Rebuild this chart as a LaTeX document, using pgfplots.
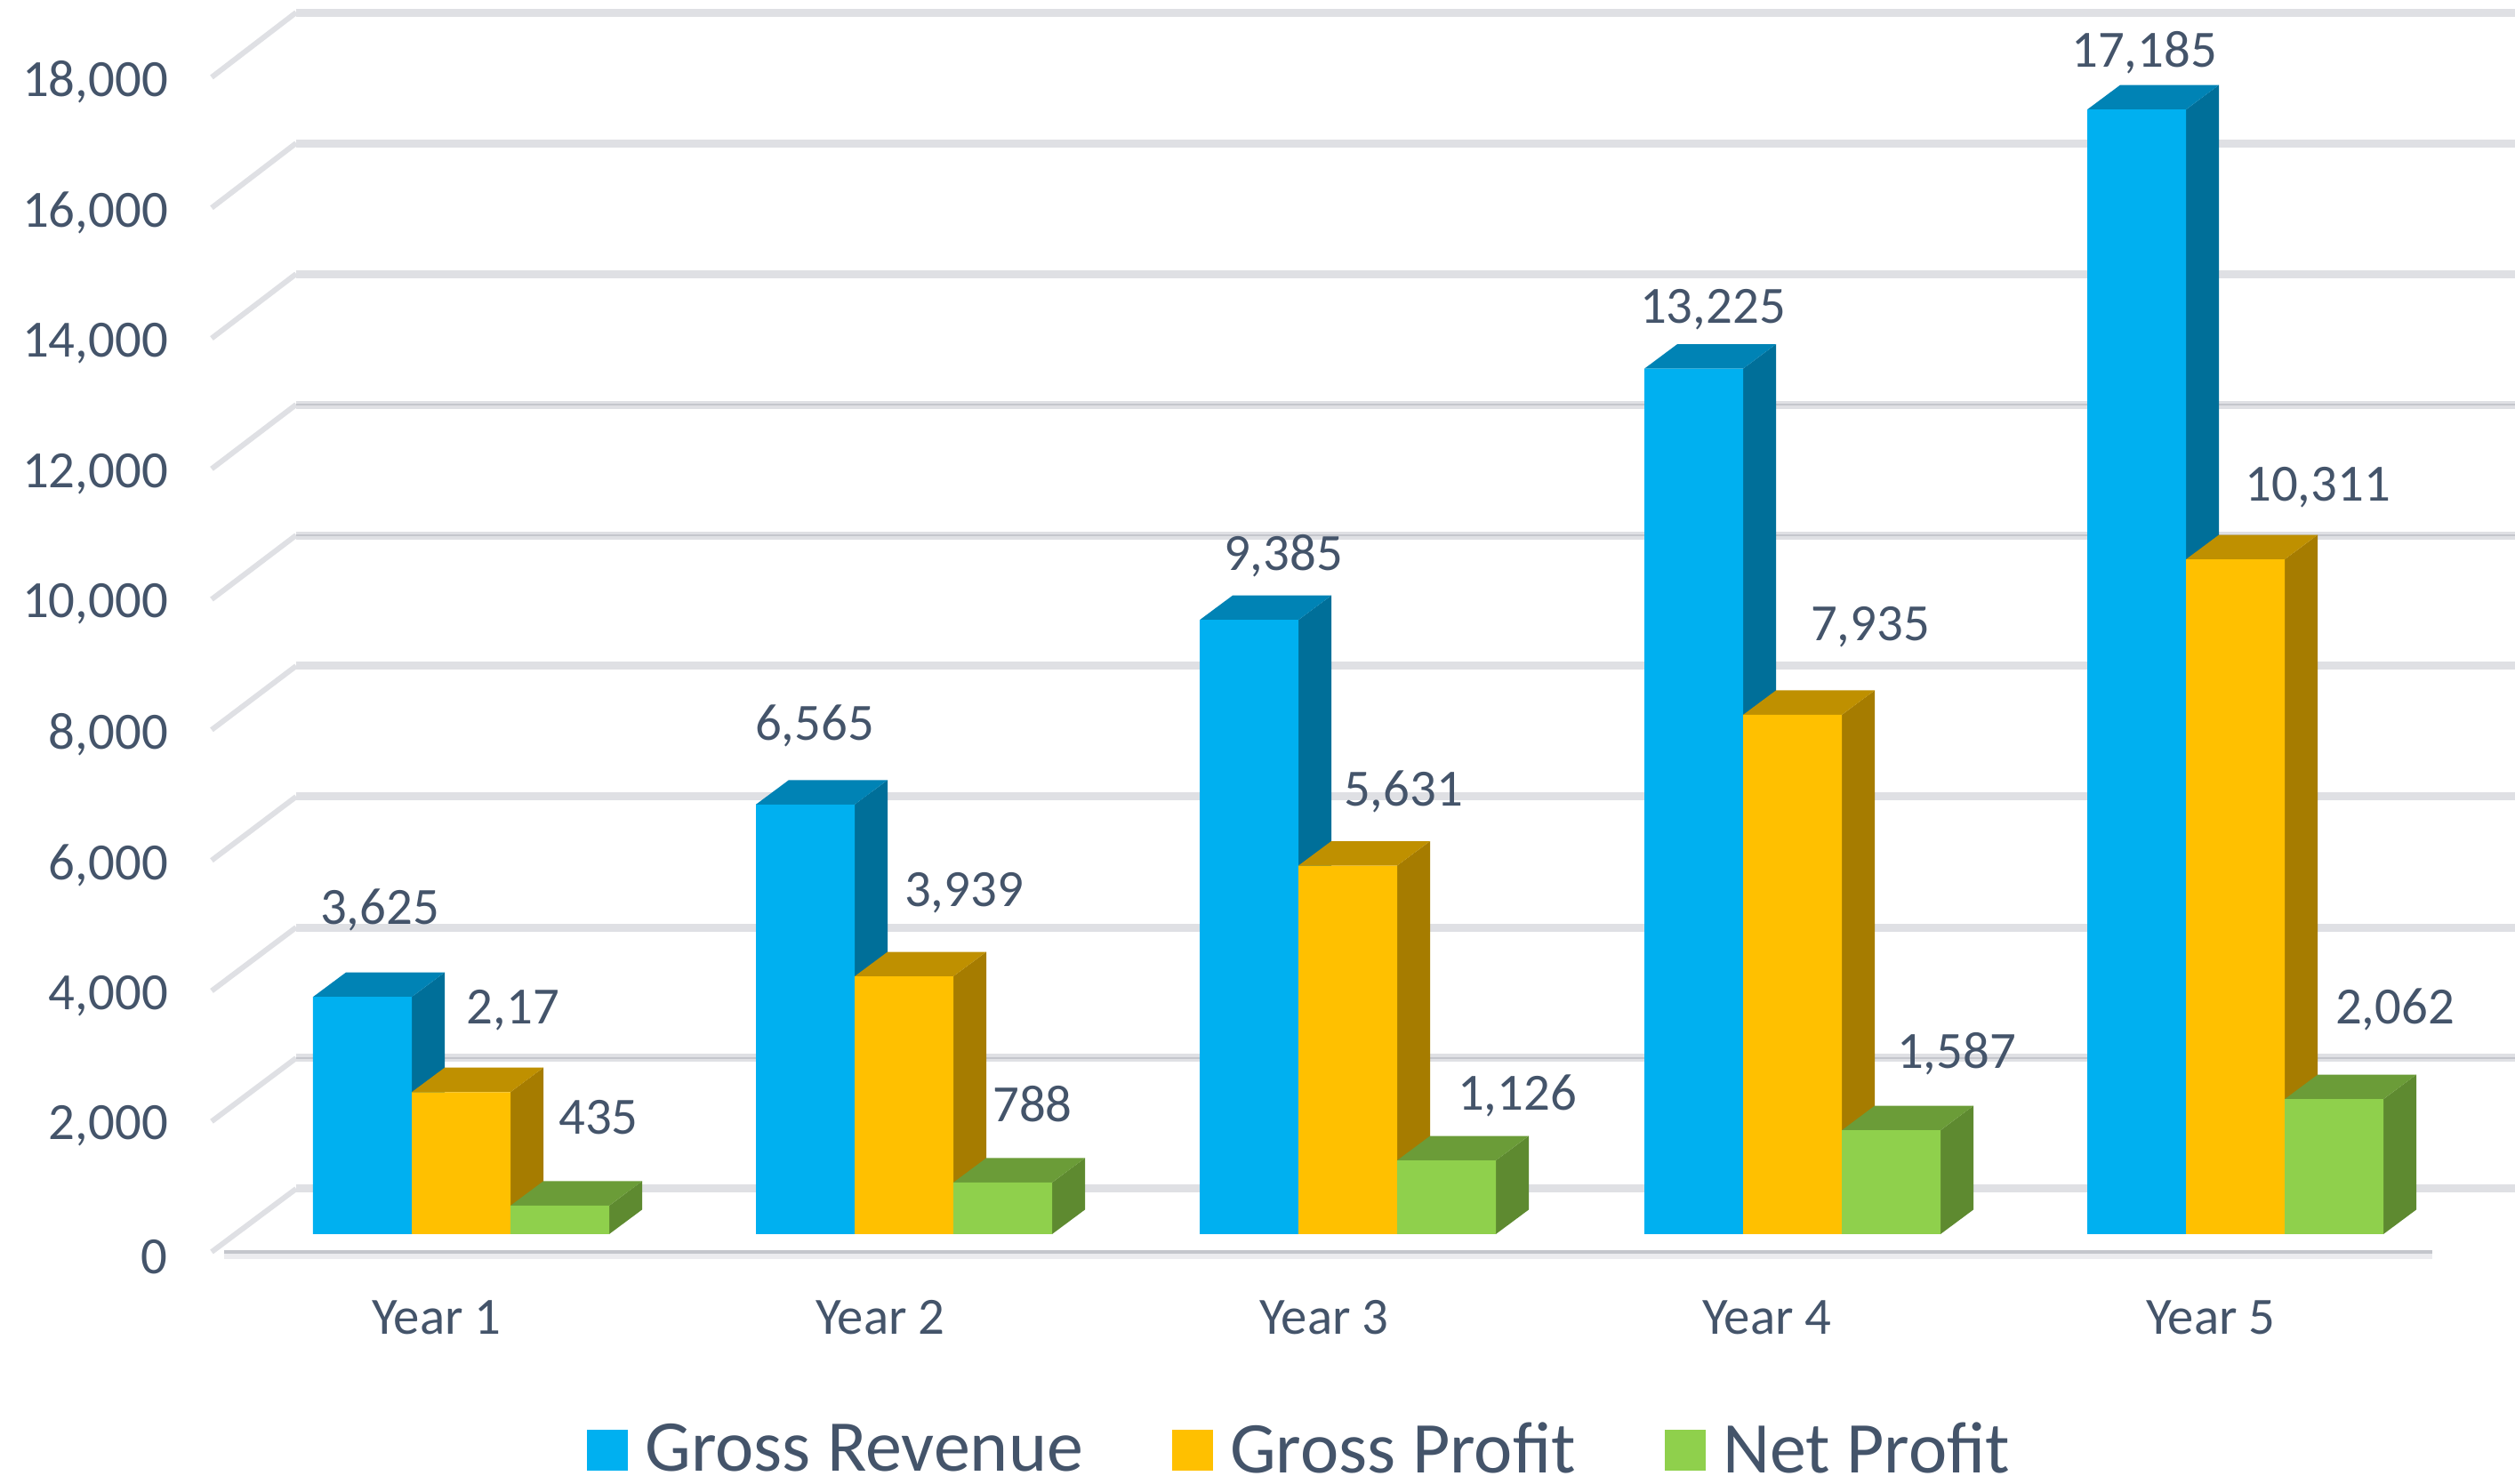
\documentclass[border=0pt]{standalone}
\usepackage{fontspec}
\setmainfont{Carlito}
\usepackage{pgfplots}
\pgfplotsset{compat=1.18}
\definecolor{txt}{HTML}{44546A}
\definecolor{gridc}{HTML}{DFE0E4}
\definecolor{gridd}{HTML}{C4C6CC}
\definecolor{bF}{HTML}{00B0F0}\definecolor{bT}{HTML}{0083B5}\definecolor{bS}{HTML}{006F99}
\definecolor{oF}{HTML}{FFC000}\definecolor{oT}{HTML}{BF9000}\definecolor{oS}{HTML}{A67C00}
\definecolor{gF}{HTML}{8FD04C}\definecolor{gT}{HTML}{6B9C38}\definecolor{gS}{HTML}{5E8A30}
% grid line: front-left level, back level
\newcommand{\gridl}[2]{%
  \addplot[gridc,line width=2.25pt,forget plot] coordinates {(333,#2)(2828,#2)};
  \addplot[gridc,line width=1.5pt,forget plot] coordinates {(238,#1)(333,#2)};
}
% side and top faces of a bar: left x, value, side colour, top colour
\newcommand{\faces}[4]{%
  \edef\xb{\the\numexpr#1+111\relax}\edef\xc{\the\numexpr#1+148\relax}\edef\xd{\the\numexpr#1+37\relax}\edef\yt{\the\numexpr#2+374\relax}%
  \edef\tmp{\noexpand\addplot[fill=#3,draw=none,forget plot] coordinates {(\xb,0)(\xc,374)(\xc,\yt)(\xb,#2)} -- cycle;
  \noexpand\addplot[fill=#4,draw=none,forget plot] coordinates {(#1,#2)(\xd,\yt)(\xc,\yt)(\xb,#2)} -- cycle;}%
  \tmp
}
\begin{document}
\begin{tikzpicture}[x=1pt,y=1pt]
\path[use as bounding box] (-48pt,-57.25pt) rectangle (659pt,360pt);
\begin{axis}[
  at={(0pt,0pt)},anchor=south west,
  scale only axis,width=659pt,height=360pt,
  xmin=192,xmax=2828,ymin=-707,ymax=18859,
  clip=false,
  axis line style={draw=none},
  major tick length=0pt,
  tick style={draw=none},
  xtick={491,990,1489,1987,2486},
  xticklabels={Year 1,Year 2,Year 3,Year 4,Year 5},
  ytick={-272,1722,3717,5711,7706,9700,11694,13689,15683,17678},
  yticklabels={0,{2,000},{4,000},{6,000},{8,000},{10,000},{12,000},{14,000},{16,000},{18,000}},
  tick label style={font=\fontsize{14.7}{16}\selectfont,text=txt},
  yticklabel style={inner sep=0pt,anchor=east,xshift=-0.6pt,yshift=-1.35pt},
  xticklabel style={inner sep=0pt,anchor=center,yshift=-10.4pt},
  legend columns=3,
  legend cell align=left,
  legend style={at={(axis cs:660,-3302)},anchor=west,draw=none,fill=none,inner sep=0pt,outer sep=0pt,
    font=\fontsize{20.5}{24}\selectfont,text=txt,
    nodes={inner sep=0pt},
    /tikz/every even column/.append style={column sep=25pt},
    /tikz/every odd column/.append style={column sep=4.85pt}},
  legend image code/.code={\fill[draw=none,#1] (0pt,-5.75pt) rectangle (11.5pt,5.75pt);},
]
% walls
\gridl{-272}{693}
\gridl{1722}{2690}
\gridl{3717}{4687}
\gridl{5711}{6685}
\gridl{7706}{8682}
\gridl{9700}{10679}
\gridl{11694}{12676}
\gridl{13689}{14673}
\gridl{15683}{16671}
\gridl{17678}{18668}
\addplot[gridd,line width=0.6pt,forget plot] coordinates {(333,2690)(2828,2690)};
\addplot[gridd,line width=0.6pt,forget plot] coordinates {(333,10679)(2828,10679)};
\addplot[gridd,line width=0.6pt,forget plot] coordinates {(333,12676)(2828,12676)};
\addplot[gridc!60,line width=2pt,forget plot] coordinates {(252,-330)(2735,-330)};
\addplot[gridd,line width=1.1pt,forget plot] coordinates {(252,-272)(2735,-272)};
% Gross Revenue
\faces{352}{3625}{bS}{bT}\faces{850}{6565}{bS}{bT}\faces{1349}{9385}{bS}{bT}\faces{1849}{13225}{bS}{bT}\faces{2347}{17185}{bS}{bT}
\addplot[ybar,bar width=111,bar shift=0pt,fill=bF,draw=none,forget plot] coordinates {(407.5,3625)(905.5,6565)(1404.5,9385)(1904.5,13225)(2402.5,17185)};
% Gross Profit
\faces{463}{2170}{oS}{oT}\faces{961}{3939}{oS}{oT}\faces{1460}{5631}{oS}{oT}\faces{1960}{7935}{oS}{oT}\faces{2458}{10311}{oS}{oT}
\addplot[ybar,bar width=111,bar shift=0pt,fill=oF,draw=none,forget plot] coordinates {(518.5,2170)(1016.5,3939)(1515.5,5631)(2015.5,7935)(2513.5,10311)};
% Net Profit
\faces{574}{435}{gS}{gT}\faces{1072}{788}{gS}{gT}\faces{1571}{1126}{gS}{gT}\faces{2071}{1587}{gS}{gT}\faces{2569}{2062}{gS}{gT}
\addplot[ybar,bar width=111,bar shift=0pt,fill=gF,draw=none,forget plot] coordinates {(629.5,435)(1127.5,788)(1626.5,1126)(2126.5,1587)(2624.5,2062)};
% value labels
\addplot[only marks,mark=none,forget plot,point meta=explicit symbolic,
  nodes near coords,
  every node near coord/.append style={anchor=center,yshift=-1.2pt,font=\fontsize{14.7}{16}\selectfont,text=txt}]
  table[meta=lab] {
x y lab
427 5014 3,625
577 3492 2,17
673 1848 435
916 7826 6,565
1084 5285 3,939
1161 2052 788
1443 10435 9,385
1578 6821 5,631
1706 2174 1,126
1926 14198 13,225
2103 9348 7,935
2200 2826 1,587
2411 18125 17,185
2606 11481 10,311
2693 3492 2,062
};
\addlegendimage{fill=bF}\addlegendentry{Gross Revenue}
\addlegendimage{fill=oF}\addlegendentry{Gross Profit}
\addlegendimage{fill=gF}\addlegendentry{Net Profit}
\end{axis}
\end{tikzpicture}
\end{document}
